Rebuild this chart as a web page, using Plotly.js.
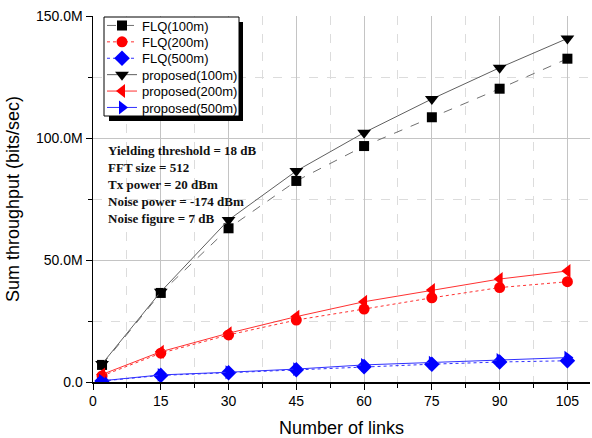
<!DOCTYPE html>
<html>
<head>
<meta charset="utf-8">
<script src="https://cdn.plot.ly/plotly-3.0.1.min.js"></script>
<style>html,body{margin:0;padding:0;background:#fff;}#chart{width:592px;height:438px;}</style>
</head>
<body>
<div id="chart"></div>
<script>
// Data
const links = [2, 15, 30, 45, 60, 75, 90, 105];
const flq100 = [7.0e6, 36.5e6, 63.0e6, 82.4e6, 96.7e6, 108.5e6, 120.2e6, 132.5e6];
const flq200 = [2.5e6, 11.8e6, 19.3e6, 25.4e6, 29.9e6, 34.5e6, 38.7e6, 41.1e6];
const flq500 = [0.4e6, 2.7e6, 3.8e6, 5.0e6, 6.3e6, 7.3e6, 8.2e6, 8.7e6];
const prop100 = [7.4e6, 37.0e6, 66.4e6, 86.5e6, 102.2e6, 116.0e6, 128.8e6, 140.8e6];
const prop200 = [3.1e6, 12.4e6, 20.0e6, 26.8e6, 32.9e6, 37.7e6, 42.2e6, 45.5e6];
const prop500 = [0.5e6, 2.9e6, 4.0e6, 5.3e6, 7.0e6, 7.9e6, 9.0e6, 10.0e6];
const seriesNames = ['FLQ(100m)', 'FLQ(200m)', 'FLQ(500m)', 'proposed(100m)', 'proposed(200m)', 'proposed(500m)'];
const yTickVals = [0, 50e6, 100e6, 150e6];
const yTickText = ['0.0', '50.0M', '100.0M', '150.0M'];
const xTickVals = [0, 15, 30, 45, 60, 75, 90, 105];
const infoLines = ['Yielding threshold = 18 dB', 'FFT size = 512', 'Tx power = 20 dBm', 'Noise power = -174 dBm', 'Noise figure = 7 dB'];

const font = 'Liberation Sans, Arial, sans-serif';
const W = 592, H = 438, ML = 93, MR = 2, MT = 16, MB = 56;
const PW = W - ML - MR, PH = H - MT - MB;
const px2x = p => (p - ML) / PW;
const px2y = p => (H - MB - p) / PH;

function legendId(i) { return i === 0 ? 'legend' : 'legend' + (i + 1); }

function tr(i, y, color, lineColor, dash, symbol, size) {
  return {
    x: links, y: y, name: seriesNames[i], type: 'scatter', mode: 'lines+markers',
    legend: legendId(i),
    line: {color: lineColor, width: 1, dash: dash},
    marker: {color: color, symbol: symbol, size: size, line: {width: 0}}
  };
}

const data = [
  tr(0, flq100, '#000000', '#707070', 'dash', 'square', 10),
  tr(1, flq200, '#ff0000', '#ff3030', 'dot', 'circle', 11),
  tr(2, flq500, '#0000ff', '#3030ff', 'dot', 'diamond', 12),
  tr(3, prop100, '#000000', '#606060', 'solid', 'triangle-down', 12),
  tr(4, prop200, '#ff0000', '#ff3030', 'solid', 'triangle-left', 12),
  tr(5, prop500, '#0000ff', '#3030ff', 'solid', 'triangle-right', 12)
];

const layout = {
  width: W, height: H,
  margin: {l: ML, r: MR, t: MT, b: MB},
  paper_bgcolor: '#ffffff', plot_bgcolor: '#ffffff',
  font: {family: font, size: 14, color: '#000'},
  showlegend: true,
  xaxis: {
    range: [0, 110], tickmode: 'array', tickvals: xTickVals,
    showline: true, linecolor: '#000', linewidth: 1.5,
    ticks: 'outside', ticklen: 6, tickwidth: 1, tickcolor: '#000',
    showgrid: true, gridcolor: '#c4c4c4', gridwidth: 1, zeroline: false,
    minor: {tickmode: 'linear', tick0: 0, dtick: 7.5, ticks: 'outside', ticklen: 4, tickcolor: '#000',
            showgrid: true, gridcolor: '#dcdcdc', griddash: 'dash', gridwidth: 1},
    tickfont: {size: 14},
    title: {text: 'Number of links', font: {size: 18}, standoff: 14}
  },
  yaxis: {
    range: [0, 150e6], tickmode: 'array', tickvals: yTickVals, ticktext: yTickText,
    showline: true, linecolor: '#000', linewidth: 1.5,
    ticks: 'outside', ticklen: 6, tickwidth: 1, tickcolor: '#000',
    showgrid: true, gridcolor: '#c4c4c4', gridwidth: 1, zeroline: false,
    minor: {tickmode: 'linear', tick0: 0, dtick: 25e6, ticks: 'outside', ticklen: 4, tickcolor: '#000',
            showgrid: true, gridcolor: '#dcdcdc', griddash: 'dash', gridwidth: 1},
    tickfont: {size: 14},
    title: {text: 'Sum throughput (bits/sec)', font: {size: 18}, standoff: 11}
  },
  shapes: [
    {type: 'rect', xref: 'paper', yref: 'paper', layer: 'above',
     x0: px2x(109), x1: px2x(243), y0: px2y(121), y1: px2y(22),
     fillcolor: '#000', line: {width: 0}},
    {type: 'rect', xref: 'paper', yref: 'paper', layer: 'above',
     x0: px2x(104), x1: px2x(239), y0: px2y(116), y1: px2y(17),
     fillcolor: '#fff', line: {width: 1, color: '#000'}}
  ],
  annotations: [{
    xref: 'paper', yref: 'paper', x: px2x(106), y: px2y(141), xanchor: 'left', yanchor: 'top',
    align: 'left', showarrow: false,
    text: infoLines.join('<br>'),
    font: {family: 'Liberation Serif, Times New Roman, serif', size: 13, color: '#111', weight: 'bold'}
  }]
};

// one single-entry legend per series, stacked with the reference's tight row spacing
for (let i = 0; i < seriesNames.length; i++) {
  layout[legendId(i)] = {
    x: px2x(102), y: px2y(10.5 + 16.4 * i), xanchor: 'left', yanchor: 'top',
    bgcolor: 'rgba(0,0,0,0)', borderwidth: 0,
    font: {family: font, size: 13, color: '#000'},
    itemwidth: 30
  };
}

Plotly.newPlot('chart', data, layout, {displayModeBar: false, staticPlot: true});
</script>
</body>
</html>
